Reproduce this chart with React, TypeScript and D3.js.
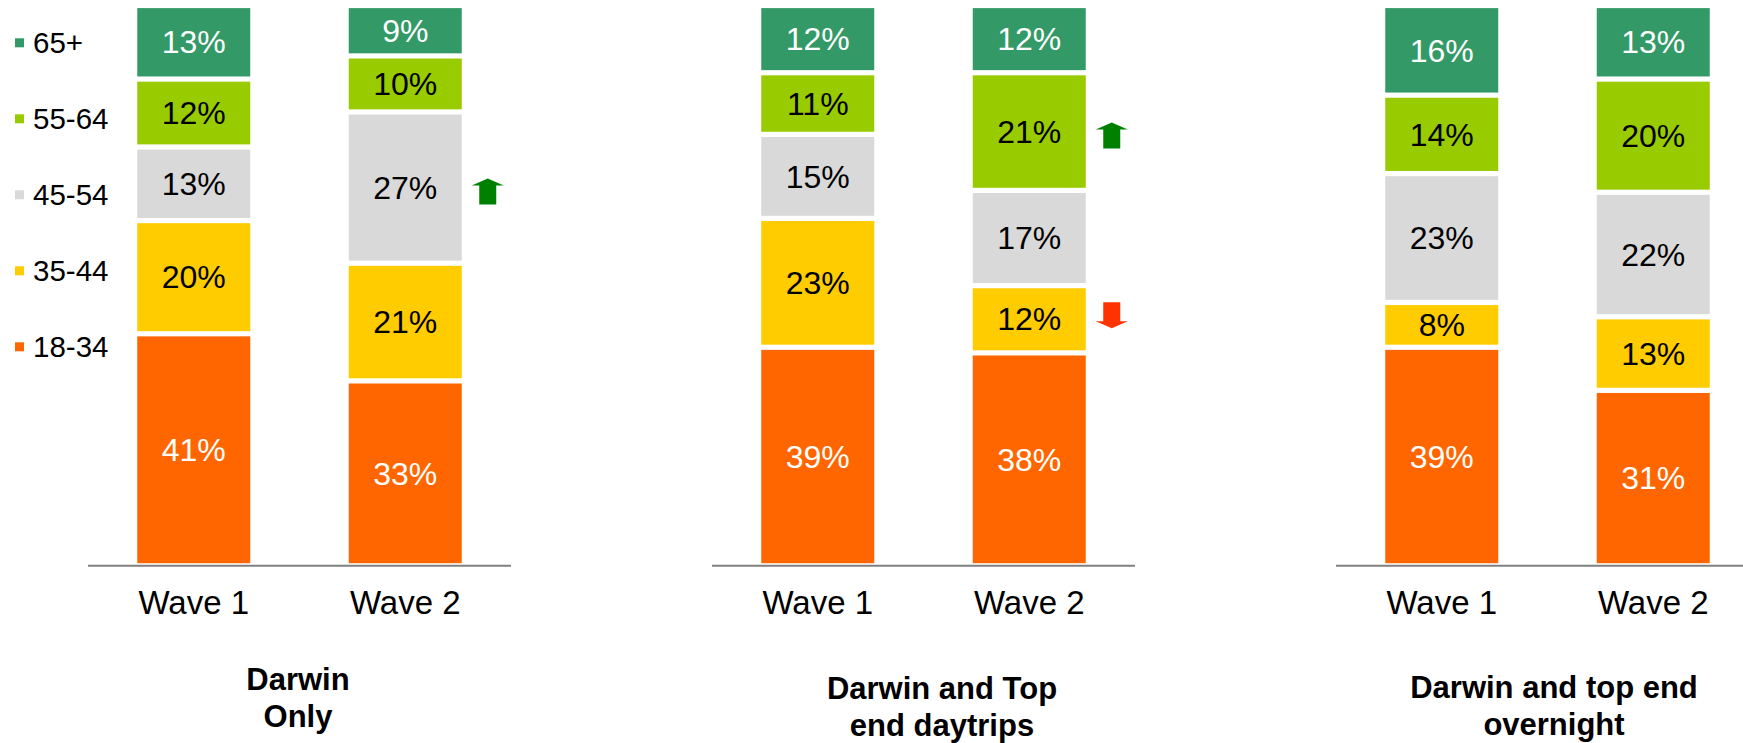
import React from "react";
import * as d3 from "d3";

// ---- Data ----
const ageGroups = ["18-34", "35-44", "45-54", "55-64", "65+"]; // bottom -> top
const waves = ["Wave 1", "Wave 2"];
const panelTitles = [
  ["Darwin", "Only"],
  ["Darwin and Top", "end daytrips"],
  ["Darwin and top end", "overnight"],
];
// values per panel, per wave, in ageGroups order (bottom -> top)
const darwinOnly = [
  [41, 20, 13, 12, 13],
  [33, 21, 27, 10, 9],
];
const darwinDaytrips = [
  [39, 23, 15, 11, 12],
  [38, 12, 17, 21, 12],
];
const darwinOvernight = [
  [39, 8, 23, 14, 16],
  [31, 13, 22, 20, 13],
];
const panelValues = [darwinOnly, darwinDaytrips, darwinOvernight];
// significance arrows: panel index, wave index, age group, direction
const arrowPanel = [0, 1, 1];
const arrowWave = [1, 1, 1];
const arrowGroup = ["45-54", "55-64", "35-44"];
const arrowDir = ["up", "up", "down"];

// ---- Styles / layout ----
const colors: Record<string, string> = {
  "18-34": "#FF6600",
  "35-44": "#FFCC00",
  "45-54": "#D9D9D9",
  "55-64": "#99CC00",
  "65+": "#339966",
};
const labelColors: Record<string, string> = {
  "18-34": "#FFFFFF",
  "35-44": "#000000",
  "45-54": "#000000",
  "55-64": "#000000",
  "65+": "#FFFFFF",
};
const W = 1743;
const H = 743;
const FONT = "'Liberation Sans', Arial, Helvetica, sans-serif";
const panelX0 = [88, 712, 1336];
const panelW = 423;
const barW = 113;
const axisY = 565.7;
const yBottom = 565.8;
const yTop = 5.5;
const gap = 5.2;
const titleDx = [-1.5, 18.5, 6.5];
const titleBaseline = [690, 699, 698];
const titleLineH = 36.5;

function arrowPath(cx: number, cy: number, dir: string) {
  const w = 32, h = 26, sw = 17, hh = 7;
  const s = dir === "up" ? 1 : -1;
  const tip = cy - s * h / 2;
  const base = cy + s * h / 2;
  const neck = tip + s * hh;
  return `M${cx},${tip} L${cx + w / 2},${neck} L${cx + sw / 2},${neck} L${cx + sw / 2},${base} L${cx - sw / 2},${base} L${cx - sw / 2},${neck} L${cx - w / 2},${neck} Z`;
}

export default function App() {
  const xPos = d3.scalePoint<string>().domain(waves).range([0, panelW]).padding(0.5);
  const legendY = d3.scalePoint<string>().domain([...ageGroups].reverse()).range([42.8, 346.8]);

  const bars: any[] = [];
  panelValues.forEach((panel, pi) => {
    panel.forEach((vals, wi) => {
      const total = d3.sum(vals);
      const y = d3.scaleLinear().domain([0, total]).range([yBottom, yTop]);
      const cx = panelX0[pi] + (xPos(waves[wi]) as number);
      let cum = 0;
      vals.forEach((v, gi) => {
        const y0 = y(cum);
        const y1 = y(cum + v);
        cum += v;
        bars.push({ pi, wi, g: ageGroups[gi], v, cx, top: y1 + gap / 2, bottom: y0 - gap / 2 });
      });
    });
  });

  return (
    <svg width={W} height={H} style={{ position: "absolute", left: 0, top: 0, background: "#fff" }} fontFamily={FONT}>
      {/* legend */}
      {[...ageGroups].reverse().map((g) => {
        const cy = legendY(g) as number;
        return (
          <g key={g}>
            <rect x={15} y={cy - 4.5} width={9} height={9} fill={colors[g]} />
            <text x={33} y={cy} dy="0.35em" fontSize={29.5} fill="#000">{g}</text>
          </g>
        );
      })}
      {/* bars */}
      {bars.map((b, i) => (
        <g key={i}>
          <rect x={b.cx - barW / 2} y={b.top} width={barW} height={Math.max(0, b.bottom - b.top)} fill={colors[b.g]} />
          <text x={b.cx} y={(b.top + b.bottom) / 2} dy="0.35em" textAnchor="middle" fontSize={32} fill={labelColors[b.g]}>
            {b.v}%
          </text>
        </g>
      ))}
      {/* axes, wave labels, titles */}
      {panelX0.map((x0, pi) => (
        <g key={pi}>
          <line x1={x0} x2={x0 + panelW} y1={axisY} y2={axisY} stroke="#808080" strokeWidth={2} />
          {waves.map((w) => (
            <text key={w} x={x0 + (xPos(w) as number)} y={614} textAnchor="middle" fontSize={33} fill="#000">{w}</text>
          ))}
          {panelTitles[pi].map((line, li) => (
            <text key={li} x={x0 + panelW / 2 + titleDx[pi]} y={titleBaseline[pi] + li * titleLineH} textAnchor="middle" fontSize={31} fontWeight="bold" fill="#000">
              {line}
            </text>
          ))}
        </g>
      ))}
      {/* arrows */}
      {arrowPanel.map((pi, i) => {
        const b = bars.find((bb) => bb.pi === pi && bb.wi === arrowWave[i] && bb.g === arrowGroup[i]);
        const cx = b.cx + barW / 2 + 26;
        const cy = (b.top + b.bottom) / 2 + (arrowDir[i] === "up" ? 4 : -4);
        return <path key={i} d={arrowPath(cx, cy, arrowDir[i])} fill={arrowDir[i] === "up" ? "#008000" : "#FF3300"} />;
      })}
    </svg>
  );
}
